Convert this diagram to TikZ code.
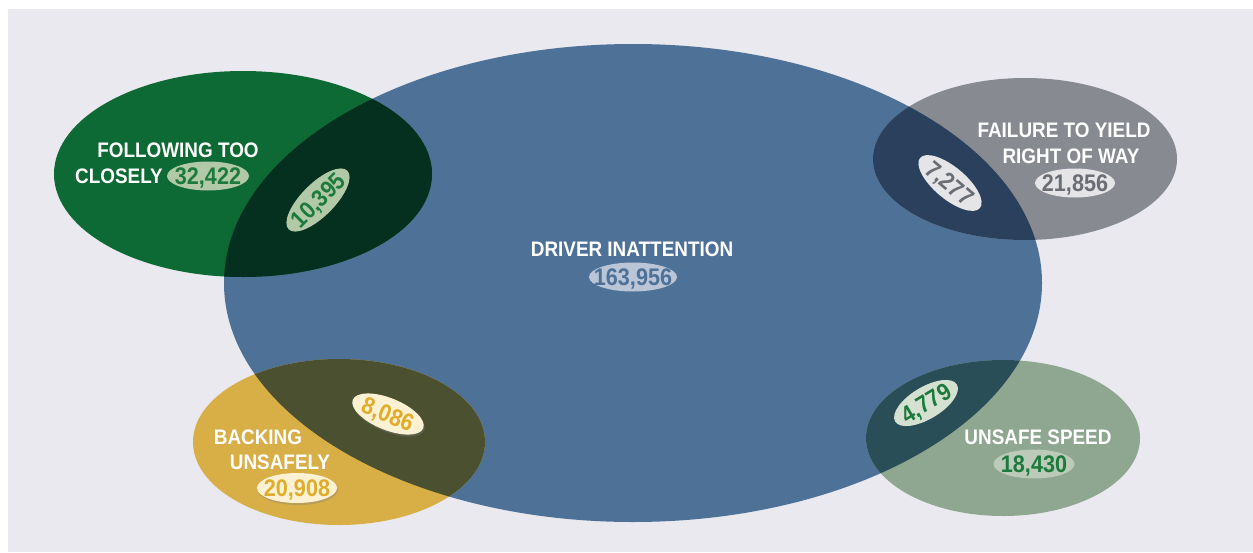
\documentclass[tikz,border=0pt]{standalone}
\usepackage{fontspec}
\setmainfont{Liberation Sans}[FakeStretch=0.9]
\usetikzlibrary{shapes.geometric,shadows}
\definecolor{panel}{HTML}{E9E9EF}
\definecolor{cblue}{HTML}{4E7197}
\definecolor{cgreen}{HTML}{0E6A34}
\definecolor{cgray}{HTML}{878A91}
\definecolor{cyellow}{HTML}{D8AE47}
\definecolor{csage}{HTML}{8FA690}
\definecolor{ovgreen}{HTML}{05301F}
\definecolor{ovgray}{HTML}{2B405C}
\definecolor{ovyellow}{HTML}{4A5030}
\definecolor{ovsage}{HTML}{2A4E58}
\definecolor{pgreen}{HTML}{B2C9A8}
\definecolor{tgreen}{HTML}{1C7A3C}
\definecolor{pblue}{HTML}{BAC5D8}
\definecolor{pgray}{HTML}{E5E5E7}
\definecolor{tgray}{HTML}{6A6D74}
\definecolor{pcream}{HTML}{FCF1D2}
\definecolor{tgold}{HTML}{E0AC2B}
\definecolor{psagelt}{HTML}{D5E1D0}
\definecolor{psage}{HTML}{BCCBB9}
\newcommand\pnum[1]{\makebox[0pt]{#1}}
\tikzset{
  lbl/.style={text=white, font=\fontsize{21}{23}\selectfont\bfseries, inner sep=0pt, text height=15pt, text depth=0pt},
  pill/.style={ellipse, inner sep=0pt, minimum width=82pt, minimum height=29pt,
    font=\fontsize{24}{26}\selectfont\bfseries, text height=17pt, text depth=0pt},
  pshadow/.style={drop shadow={opacity=0.35, shadow xshift=1pt, shadow yshift=-2pt}},
}
\begin{document}
\begin{tikzpicture}[x=1pt,y=-1pt]
\useasboundingbox (0,0) rectangle (1253,552);
\fill[white] (0,0) rectangle (1253,552);
\fill[panel] (8,9) rectangle (1253,552);
% main ellipse
\fill[cblue] (633,283) ellipse [x radius=409, y radius=239];
% small ellipses
\fill[cgreen] (243,174) ellipse [x radius=189, y radius=103];
\fill[cgray] (1025,159) ellipse [x radius=152, y radius=81];
\fill[cyellow] (339,442) ellipse [x radius=146, y radius=83];
\fill[csage] (1003,438) ellipse [x radius=137, y radius=78];
% overlaps
\begin{scope}
\clip (243,174) ellipse [x radius=189, y radius=103];
\fill[ovgreen] (633,283) ellipse [x radius=409, y radius=239];
\end{scope}
\begin{scope}
\clip (1025,159) ellipse [x radius=152, y radius=81];
\fill[ovgray] (633,283) ellipse [x radius=409, y radius=239];
\end{scope}
\begin{scope}
\clip (339,442) ellipse [x radius=146, y radius=83];
\fill[ovyellow] (633,283) ellipse [x radius=409, y radius=239];
\end{scope}
\begin{scope}
\clip (1003,438) ellipse [x radius=137, y radius=78];
\fill[ovsage] (633,283) ellipse [x radius=409, y radius=239];
\end{scope}
% Following too closely
\node[lbl] (ft1) at (178,150) {FOLLOWING TOO};
\node[lbl, anchor=west] (ft2) at (75,176) {CLOSELY};
\node[pill, fill=pgreen, text=tgreen] (ftn) at (208,176) {\pnum{32,422}};
\node[pill, fill=pgreen, text=tgreen, rotate=45, minimum width=83pt, minimum height=33pt] (fto) at (318,200) {\pnum{10,395}};
% Failure to yield
\node[lbl] (fy1) at (1064,130) {FAILURE TO YIELD};
\node[lbl] (fy2) at (1071,156) {RIGHT OF WAY};
\node[pill, fill=pgray, text=tgray, minimum width=80pt] (fyn) at (1075,183) {\pnum{21,856}};
\node[pill, fill=pgray, text=tgray, rotate=-40, minimum width=78pt, minimum height=32pt] (fyo) at (950,183) {\pnum{7,277}};
% Driver inattention
\node[lbl] (di) at (632,249) {DRIVER INATTENTION};
\node[pill, fill=pblue, text=cblue, minimum width=88pt] (din) at (633,277) {\pnum{163,956}};
% Backing unsafely
\node[lbl] (bu1) at (258,437) {BACKING};
\node[lbl] (bu2) at (280,462) {UNSAFELY};
\node[pill, fill=pcream, text=tgold, minimum width=80pt, minimum height=30pt, pshadow] (bun) at (297,488) {\pnum{20,908}};
\node[pill, fill=pcream, text=tgold, rotate=-22, minimum width=76pt, minimum height=32pt, pshadow] (buo) at (388,414) {\pnum{8,086}};
% Unsafe speed
\node[lbl] (us) at (1038,437) {UNSAFE SPEED};
\node[pill, fill=psage, text=tgreen, minimum width=81pt] (usn) at (1034,464) {\pnum{18,430}};
\node[pill, fill=psagelt, text=tgreen, rotate=31, minimum width=72pt, minimum height=32pt] (uso) at (926,403) {\pnum{4,779}};
\end{tikzpicture}
\end{document}
